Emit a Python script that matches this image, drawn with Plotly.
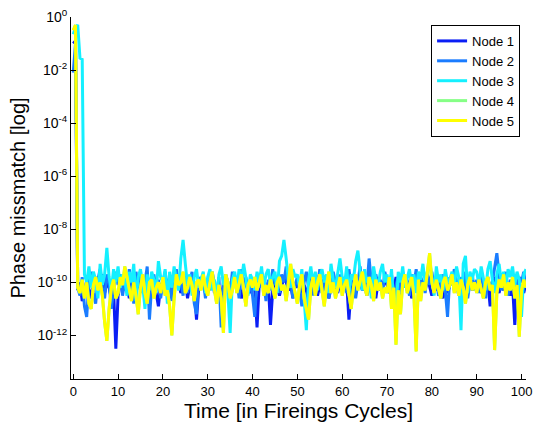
import plotly.graph_objects as go

# Time axis: firing cycles, sampled every half cycle (0 .. 101)
t_start = 0.0
t_step = 0.5

# Phase mismatch per node, as log10 exponents
node1_exp = [
    -1.0, -0.9, -10.3, -10.0, -10.7, -10.5, -9.9, -10.2, -10.6, -10.0, -9.8, -10.3, -10.1, -9.7, -10.4, -10.0, -10.2, -10.6, -10.3, -12.5,
    -10.5, -10.0, -9.8, -10.3, -10.1, -10.6, -9.9, -10.2, -10.4, -10.0, -9.7, -10.3, -10.1, -10.5, -10.0, -9.8, -10.2, -10.4, -10.9, -10.1,
    -10.0, -10.3, -9.9, -10.2, -10.5, -10.1, -9.8, -10.0, -10.4, -10.2, -9.9, -10.6, -10.1, -10.0, -10.3, -11.4, -10.2, -9.8, -10.1, -10.4,
    -10.0, -10.2, -9.7, -10.4, -10.1, -10.3, -10.8, -10.0, -9.9, -10.2, -10.5, -10.1, -9.8, -10.3, -10.0, -10.6, -10.2, -9.9, -10.1, -10.4,
    -10.1, -10.3, -11.7, -10.0, -9.8, -10.2, -10.4, -10.0, -11.6, -10.3, -9.9, -10.1, -10.5, -10.2, -9.8, -10.0, -10.3, -10.1, -10.6, -10.0,
    -10.2, -9.9, -10.4, -10.1, -10.3, -10.7, -10.0, -9.8, -10.2, -10.5, -10.1, -9.9, -10.3, -10.0, -10.6, -10.2, -9.8, -10.1, -10.4, -10.0,
    -10.3, -10.1, -10.0, -11.4, -10.2, -9.9, -10.4, -10.1, -9.8, -10.3, -10.0, -10.5, -10.2, -9.9, -10.1, -10.6, -10.0, -10.3, -10.2, -9.9,
    -10.1, -10.4, -10.0, -10.3, -9.8, -10.2, -10.5, -10.1, -9.9, -10.3, -10.0, -10.6, -10.2, -9.9, -10.4, -10.1, -10.0, -10.3, -9.8, -10.2,
    -10.5, -10.1, -10.3, -9.9, -10.2, -10.6, -10.0, -10.4, -10.1, -9.8, -10.3, -10.0, -10.5, -10.2, -9.9, -10.1, -10.4, -10.0, -10.3, -10.1,
    -10.2, -9.9, -10.4, -10.1, -10.3, -10.0, -10.9, -10.2, -9.8, -10.1, -10.4, -10.0, -10.3, -9.9, -10.2, -10.5, -10.1, -11.6, -10.0, -10.3,
    -10.1, -10.4, -10.0,
]

node2_exp = [
    -2.1, -1.0, -10.2, -10.5, -9.8, -10.9, -11.3, -10.0, -9.6, -10.4, -10.8, -9.9, -9.5, -10.2, -10.6, -9.7, -10.0, -11.0, -10.3, -9.6,
    -10.1, -9.7, -10.5, -9.9, -10.3, -9.5, -10.0, -10.8, -9.6, -10.2, -9.8, -10.4, -10.0, -9.4, -11.4, -10.1, -9.7, -10.3, -9.9, -10.6,
    -10.0, -9.6, -10.3, -9.8, -10.7, -10.1, -9.5, -10.2, -9.9, -10.5, -9.7, -10.4, -10.0, -9.6, -10.8, -11.2, -9.8, -10.2, -9.9, -10.6,
    -9.9, -10.3, -9.6, -10.1, -10.5, -9.8, -11.7, -10.2, -9.7, -10.0, -10.4, -9.6, -10.1, -9.9, -10.6, -9.5, -10.2, -9.8, -10.3, -10.0,
    -10.5, -11.3, -9.8, -10.2, -9.6, -10.0, -10.7, -9.9, -10.3, -9.5, -10.1, -9.8, -10.4, -9.7, -10.0, -9.4, -10.2, -9.9, -10.6, -10.1,
    -9.8, -10.3, -10.9, -10.0, -9.6, -10.2, -9.8, -10.5, -9.7, -10.1, -9.5, -10.4, -10.0, -9.8, -10.6, -10.2, -9.6, -10.0, -10.3, -9.7,
    -10.2, -9.8, -10.4, -9.5, -10.1, -9.9, -10.6, -10.0, -9.4, -10.3, -9.8, -10.2, -9.1, -10.0, -10.5, -9.7, -10.1, -9.9, -10.4, -9.6,
    -10.0, -10.3, -9.7, -10.6, -10.1, -9.8, -10.4, -9.6, -10.2, -9.9, -10.5, -9.7, -10.1, -9.5, -10.3, -9.8, -10.0, -10.4, -9.7, -10.1,
    -9.6, -10.2, -9.9, -10.5, -10.0, -9.7, -10.3, -11.3, -9.8, -10.1, -9.5, -10.0, -10.4, -9.8, -10.2, -9.6, -10.6, -10.0, -9.7, -10.3,
    -9.9, -10.4, -9.7, -10.1, -10.6, -9.8, -10.2, -10.0, -9.5, -8.9, -9.7, -10.3, -10.0, -9.6, -10.5, -9.9, -10.2, -9.7, -10.1, -9.8,
    -10.0, -9.6, -10.2,
]

node3_exp = [
    -0.65, -0.4, -0.3, -1.55, -1.6, -9.7, -10.0, -9.4, -10.2, -9.6, -9.9, -10.6, -9.3, -10.1, -9.7, -8.7, -9.8, -10.3, -9.5, -10.0,
    -9.4, -10.2, -9.7, -9.9, -10.5, -9.6, -10.0, -9.3, -10.7, -9.8, -9.5, -10.1, -11.0, -9.7, -10.3, -9.6, -9.9, -10.4, -9.2, -9.8,
    -10.0, -9.5, -10.8, -9.6, -10.2, -9.4, -9.9, -10.3, -9.1, -8.4, -9.3, -10.1, -9.7, -10.5, -9.8, -9.5, -10.2, -9.9, -9.6, -10.4,
    -9.8, -9.5, -10.3, -9.9, -10.6, -9.7, -9.4, -10.1, -9.8, -10.4, -11.9, -9.9, -9.6, -10.2, -9.5, -10.0, -9.3, -9.8, -10.5, -9.7,
    -9.9, -10.3, -9.6, -10.0, -9.4, -10.2, -9.7, -9.5, -10.1, -9.8, -9.6, -10.4, -9.2, -9.0, -8.4, -9.1, -9.9, -10.2, -9.5, -9.8,
    -9.7, -10.2, -9.5, -10.6, -11.8, -9.9, -9.4, -10.1, -9.6, -10.3, -9.8, -9.5, -10.0, -9.7, -10.4, -9.3, -9.9, -10.2, -9.6, -9.1,
    -9.8, -10.1, -9.4, -10.5, -9.7, -9.9, -9.2, -8.8, -9.6, -10.3, -9.5, -10.0, -9.8, -10.6, -9.4, -9.9, -10.2, -9.6, -9.3, -10.0,
    -9.7, -10.3, -9.5, -10.8, -11.2, -9.6, -10.0, -9.4, -10.2, -9.8, -9.5, -10.1, -9.7, -10.4, -9.6, -9.9, -9.3, -10.0, -9.6, -9.2,
    -9.8, -10.5, -9.4, -10.0, -9.7, -10.3, -9.5, -10.0, -9.9, -9.6, -10.2, -9.4, -9.8, -11.8, -9.3, -9.0, -10.4, -9.6, -9.9, -9.5,
    -9.6, -10.1, -9.4, -9.8, -10.3, -9.5, -9.2, -9.9, -10.4, -9.7, -9.3, -10.0, -9.6, -10.2, -9.5, -9.8, -9.4, -10.1, -9.6, -9.9,
    -11.3, -9.7, -9.5,
]

node5_exp = [
    -0.5, -0.3, -10.2, -10.4, -9.9, -10.6, -10.0, -10.8, -11.0, -10.1, -9.8, -10.3, -10.0, -10.5, -11.5, -12.2, -11.0, -10.2, -9.9, -10.6,
    -10.4, -9.8, -10.1, -9.4, -9.8, -10.3, -10.7, -10.0, -10.5, -11.2, -10.2, -9.7, -10.4, -10.8, -10.0, -9.9, -10.6, -10.2, -10.0, -10.4,
    -9.8, -10.5, -10.3, -10.9, -12.0, -10.6, -9.7, -10.1, -10.0, -9.6, -10.4, -10.2, -9.8, -10.1, -10.7, -10.0, -9.9, -10.3, -9.7, -10.2,
    -10.5, -10.0, -9.6, -10.3, -10.8, -10.1, -10.6, -11.9, -9.7, -10.0, -10.6, -10.3, -9.8, -10.4, -10.0, -9.7, -10.2, -10.9, -10.1, -9.9,
    -10.2, -9.8, -10.3, -10.0, -9.7, -10.5, -10.1, -10.4, -9.9, -10.2, -10.6, -10.0, -9.8, -10.3, -10.1, -10.7, -9.9, -9.3, -10.0, -10.4,
    -10.8, -10.1, -9.7, -10.6, -11.0, -11.4, -10.2, -9.8, -10.5, -10.0, -9.7, -10.3, -10.9, -10.1, -9.6, -10.4, -10.0, -10.6, -10.2, -9.8,
    -10.5, -10.1, -9.9, -10.4, -11.0, -10.2, -9.7, -10.3, -10.0, -9.6, -10.2, -10.5, -9.8, -10.1, -10.7, -9.9, -10.3, -10.0, -10.6, -10.2,
    -10.4, -9.8, -11.0, -10.2, -12.35, -10.3, -11.2, -10.0, -9.7, -10.4, -10.1, -9.8, -10.5, -12.6, -9.9, -10.7, -10.0, -10.3, -9.6, -8.9,
    -10.0, -10.4, -9.9, -10.2, -10.6, -10.0, -9.8, -10.3, -10.1, -9.7, -10.4, -10.0, -10.5, -9.9, -10.2, -10.8, -10.1, -9.8, -10.3, -10.0,
    -10.4, -9.9, -10.2, -10.6, -10.0, -9.8, -10.3, -10.1, -12.55, -10.4, -9.9, -10.2, -9.7, -10.5, -10.0, -10.3, -9.8, -10.6, -10.1, -12.05,
    -10.3, -9.9, -10.2,
]

# Node 4 coincides with node 5 (completely hidden under it in the picture)
node4_exp = list(node5_exp)

node_names = ["Node 1", "Node 2", "Node 3", "Node 4", "Node 5"]
node_colors = ["#0a1ef5", "#1a7cff", "#14f0ff", "#86ff86", "#ffff00"]

y_tick_exps = [-12, -10, -8, -6, -4, -2, 0]
x_tick_vals = [0, 10, 20, 30, 40, 50, 60, 70, 80, 90, 100]

series = [node1_exp, node2_exp, node3_exp, node4_exp, node5_exp]

fig = go.Figure()
for name, color, exps in zip(node_names, node_colors, series):
    t = [t_start + i * t_step for i in range(len(exps))]
    fig.add_trace(go.Scatter(
        x=t, y=[10 ** e for e in exps], mode="lines", name=name,
        line=dict(color=color, width=3),
    ))

font_family = "Liberation Sans, Arial, Helvetica, sans-serif"
fig.update_layout(
    width=539, height=422,
    margin=dict(l=71, r=7, t=15, b=42),
    paper_bgcolor="white", plot_bgcolor="white",
    font=dict(family=font_family, color="black", size=14),
    showlegend=True,
    legend=dict(
        x=0.987, y=0.978, xanchor="right", yanchor="top",
        bgcolor="white", bordercolor="black", borderwidth=1,
        font=dict(size=13), tracegroupgap=0,
    ),
)
fig.update_xaxes(
    range=[-0.5, 101], tickvals=x_tick_vals,
    ticks="inside", ticklen=5, tickcolor="black",
    showline=True, linecolor="black", linewidth=1, mirror=False,
    showgrid=False, zeroline=False,
    tickfont=dict(size=13),
    title=dict(text="Time [in Fireings Cycles]", font=dict(size=21), standoff=2),
)
fig.update_yaxes(
    type="log", range=[-13.64, 0],
    tickvals=[10 ** e for e in y_tick_exps],
    ticktext=["10<sup>%d</sup>" % e for e in y_tick_exps],
    ticks="inside", ticklen=5, tickcolor="black",
    showline=True, linecolor="black", linewidth=1, mirror=False,
    showgrid=False, zeroline=False,
    tickfont=dict(size=14),
    title=dict(text="Phase missmatch [log]", font=dict(size=20), standoff=6),
)

fig.write_html("out.html")
